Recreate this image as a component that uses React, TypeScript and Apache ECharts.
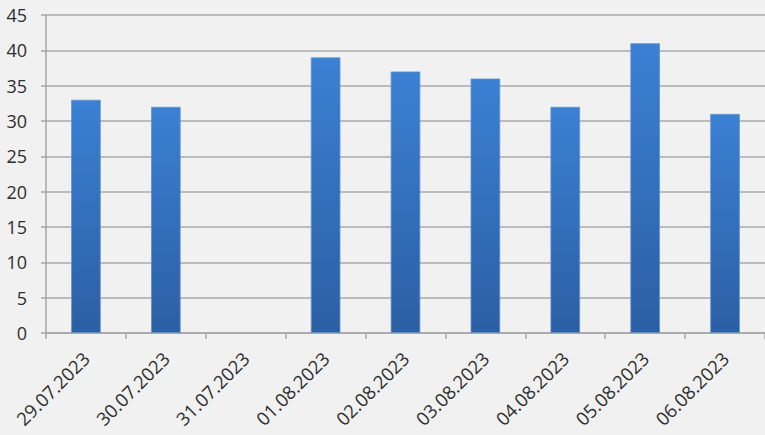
import React, { useEffect, useRef } from "react";
import * as echarts from "echarts";

const categories = [
  "29.07.2023",
  "30.07.2023",
  "31.07.2023",
  "01.08.2023",
  "02.08.2023",
  "03.08.2023",
  "04.08.2023",
  "05.08.2023",
  "06.08.2023",
];
const values: (number | null)[] = [33, 32, null, 39, 37, 36, 32, 41, 31];
const yTicks = { min: 0, max: 45, interval: 5 };

export default function App() {
  const ref = useRef<HTMLDivElement>(null);
  useEffect(() => {
    if (!ref.current) return;
    const chart = echarts.init(ref.current, null, { renderer: "svg" });
    chart.setOption({
      animation: false,
      backgroundColor: "#f1f1f1",
      grid: { left: 46, top: 15, bottom: 102, width: 723, containLabel: false },
      xAxis: {
        type: "category",
        data: categories,
        boundaryGap: true,
        axisLine: { show: true, lineStyle: { color: "#a6a6a6", width: 1.5 } },
        axisTick: { show: true, alignWithLabel: false, length: 6, lineStyle: { color: "#a6a6a6", width: 1.5 } },
        axisLabel: {
          rotate: 45,
          interval: 0,
          margin: 22,
          fontSize: 18.5,
          fontFamily: "Open Sans",
          color: "#2e2e2e",
        },
      },
      yAxis: {
        type: "value",
        min: yTicks.min,
        max: yTicks.max,
        interval: yTicks.interval,
        axisLine: { show: true, lineStyle: { color: "#a6a6a6", width: 1.5 } },
        axisTick: { show: true, length: 5, lineStyle: { color: "#a6a6a6", width: 1.5 } },
        splitLine: { show: true, lineStyle: { color: "#a9a9a9", width: 1.5 } },
        axisLabel: {
          margin: 19,
          fontSize: 18,
          fontFamily: "Open Sans",
          color: "#2e2e2e",
        },
      },
      series: [
        {
          type: "bar",
          data: values,
          barWidth: "37%",
          itemStyle: {
            color: new echarts.graphic.LinearGradient(0, 0, 0, 1, [
              { offset: 0, color: "#3b80d3" },
              { offset: 1, color: "#2b5fa3" },
            ]),
            borderColor: "#5e93d2",
            borderWidth: 0.8,
          },
        },
      ],
    });
    return () => chart.dispose();
  }, []);
  return <div ref={ref} style={{ width: 765, height: 435, position: "absolute", left: 0, top: 0 }} />;
}
